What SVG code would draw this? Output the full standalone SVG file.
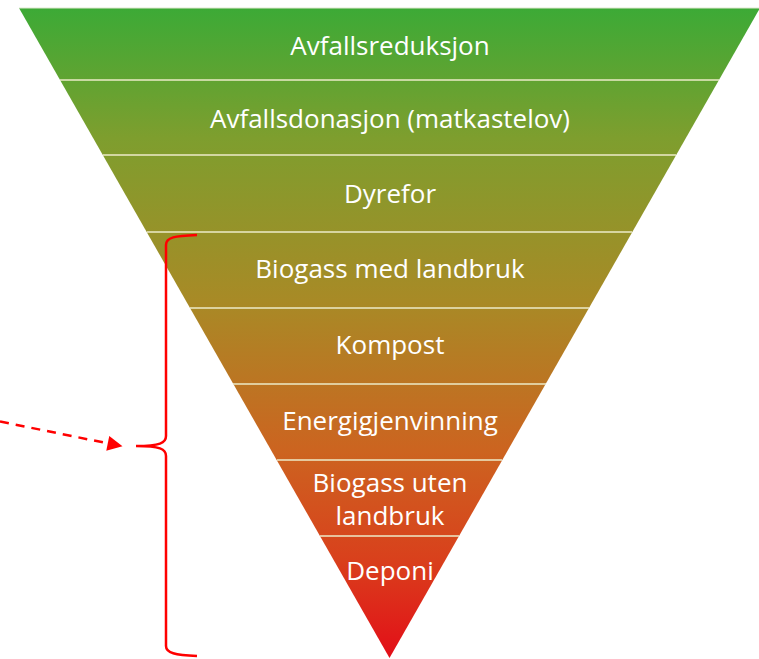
<svg xmlns="http://www.w3.org/2000/svg" width="759" height="659" viewBox="0 0 759 659">
<defs>
<linearGradient id="g" x1="0" y1="8" x2="0" y2="658" gradientUnits="userSpaceOnUse">
<stop offset="0" stop-color="#3caa36"/>
<stop offset="0.2" stop-color="#7e9e2e"/>
<stop offset="0.45" stop-color="#a88a26"/>
<stop offset="0.68" stop-color="#cc6420"/>
<stop offset="0.85" stop-color="#d9401c"/>
<stop offset="1" stop-color="#e30e18"/>
</linearGradient>
<marker id="ah" viewBox="0 0 10 10" refX="9" refY="5" markerWidth="6.5" markerHeight="6" markerUnits="strokeWidth" orient="auto">
<path d="M0,0 L10,5 L0,10 z" fill="#ff0000"/>
</marker>
<style>
.lbl{font-family:"Open Sans","Liberation Sans",sans-serif;font-size:26px;fill:#ffffff;text-anchor:middle}
.sep{stroke:#ecebc8;stroke-width:1.5}
.br{fill:none;stroke:#ff0000;stroke-width:2.5}
</style>
</defs>
<g id="pyramid">
<path d="M19,8 L760,8 L389.5,658 Z" fill="url(#g)"/>
<line x1="19" y1="8" x2="760" y2="8" stroke="#dfe8d0" stroke-width="1"/>
</g>
<g id="separators">
<line class="sep" x1="60" y1="80" x2="719" y2="80"/>
<line class="sep" x1="103" y1="155" x2="676" y2="155"/>
<line class="sep" x1="147" y1="232" x2="632" y2="232"/>
<line class="sep" x1="190" y1="308" x2="589" y2="308"/>
<line class="sep" x1="233" y1="384" x2="546" y2="384"/>
<line class="sep" x1="277" y1="460" x2="502" y2="460"/>
<line class="sep" x1="320" y1="536" x2="459" y2="536"/>
</g>
<g id="n1"><text class="lbl" x="390" y="55">Avfallsreduksjon</text></g>
<g id="n2"><text class="lbl" x="390" y="128">Avfallsdonasjon (matkastelov)</text></g>
<g id="n3"><text class="lbl" x="390" y="203">Dyrefor</text></g>
<g id="n4"><text class="lbl" x="390" y="278">Biogass med landbruk</text></g>
<g id="n5"><text class="lbl" x="390" y="354">Kompost</text></g>
<g id="n6"><text class="lbl" x="390" y="430">Energigjenvinning</text></g>
<g id="n7"><text class="lbl" x="390" y="492">Biogass uten</text><text class="lbl" x="390" y="525">landbruk</text></g>
<g id="n8"><text class="lbl" x="390" y="580">Deponi</text></g>
<g id="connectors">
<path class="br" d="M197,235 C175,236 166,237 166,245 L166,436 C166,443 160,446 136,446 C160,446 166,449 166,456 L166,646 C166,653 175,655 197,656"/>
<line x1="0" y1="421.5" x2="121" y2="446" stroke="#ff0000" stroke-width="2.5" stroke-dasharray="9,7" marker-end="url(#ah)"/>
</g>
</svg>
